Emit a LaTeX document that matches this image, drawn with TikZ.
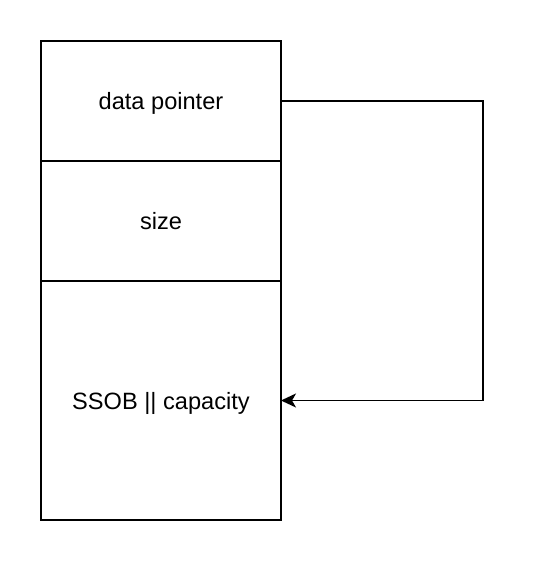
\documentclass[tikz,border=0pt]{standalone}
\usepackage{fontspec}
\setmainfont{Liberation Sans}
\usetikzlibrary{arrows.meta,positioning}
\begin{document}
\begin{tikzpicture}[x=1pt,y=-1pt,cell/.style={draw=black,line width=2pt,minimum width=240pt,outer sep=0pt,align=center,text height=17pt,text depth=0pt,font=\fontsize{23.6}{28}\selectfont},a/.style={-{Stealth[length=15pt,width=14pt,inset=4pt]},line width=1.8pt,draw=black}]
\useasboundingbox (0,0) rectangle (540,564);
\node[cell,minimum height=120pt] (ptr) at (161,101) {data pointer};
\node[cell,minimum height=120pt] (size) at (161,221) {size};
\node[cell,minimum height=239pt] (cap) at (161,400.5) {SSOB || capacity};
\coordinate (turn) at (483,101);
\draw[a] (ptr.east)--(turn)|-(cap.east);
\end{tikzpicture}
\end{document}
